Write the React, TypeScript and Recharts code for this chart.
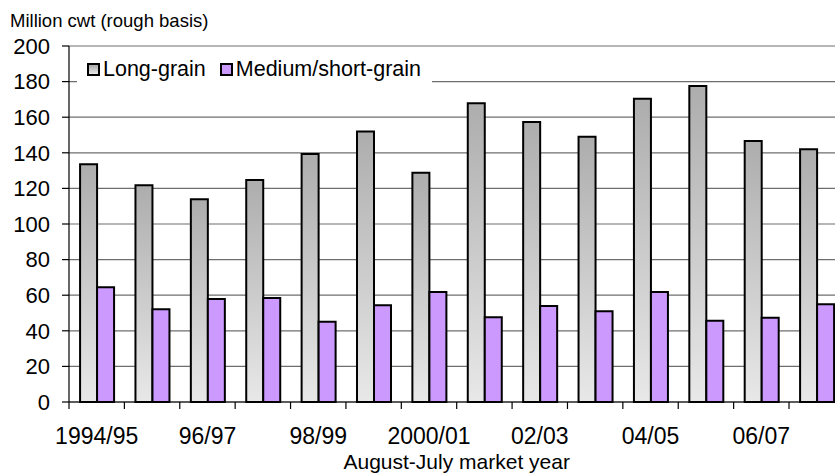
import React from 'react';
import { BarChart, Bar, XAxis, YAxis, CartesianGrid, Legend, Label } from 'recharts';

const years = [
  '1994/95', '95/96', '96/97', '97/98', '98/99', '99/00', '2000/01',
  '01/02', '02/03', '03/04', '04/05', '05/06', '06/07', '07/08',
];
const longGrain = [133.5, 121.7, 113.9, 124.7, 139.3, 152, 128.8, 167.8, 157.3, 149, 170.4, 177.5, 146.6, 142];
const mediumShort = [64.4, 52.1, 57.9, 58.4, 45.1, 54.3, 61.8, 47.6, 53.9, 51, 61.8, 45.7, 47.4, 54.9];
const yTicks = [0, 20, 40, 60, 80, 100, 120, 140, 160, 180, 200];

const data = years.map((year, i) => ({
  year,
  long: longGrain[i],
  medium: mediumShort[i],
}));

const FONT = '"Liberation Sans", Arial, sans-serif';
const W = 860;
const H = 474;
const MARGIN = { top: 46, right: 15.6, bottom: 0, left: 0 };
const Y_AXIS_W = 69;
const X_AXIS_H = 72;
const PLOT_W = W - MARGIN.right - MARGIN.left - Y_AXIS_W;
const STEP = PLOT_W / years.length;
const AXIS_Y = H - X_AXIS_H;

// Excel-style x axis: tick marks sit between categories, labels on every other one
function YearTick(props: any) {
  const { x, index, payload } = props;
  const left = x - STEP / 2;
  return (
    <g>
      <line x1={left} x2={left} y1={AXIS_Y} y2={AXIS_Y + 7} stroke="#000" strokeWidth={1.2} />
      {index % 2 === 0 && (
        <text x={x} y={AXIS_Y + 26} textAnchor="middle" dy="0.71em" fontSize={23} fontFamily={FONT} fill="#000">
          {payload.value}
        </text>
      )}
    </g>
  );
}

function LegendBox() {
  const items = [
    { name: 'Long-grain', bg: 'linear-gradient(#a8a8a8, #e8e8e8)' },
    { name: 'Medium/short-grain', bg: '#cc99ff' },
  ];
  return (
    <div style={{ display: 'flex', alignItems: 'center', height: '100%', paddingLeft: 10, fontFamily: FONT, fontSize: 21.5, color: '#000', whiteSpace: 'nowrap' }}>
      {items.map((it) => (
        <div key={it.name} style={{ display: 'flex', alignItems: 'center', marginRight: 14 }}>
          <span style={{ display: 'inline-block', width: 9, height: 9, border: '2px solid #000', background: it.bg, marginRight: 3 }} />
          <span>{it.name}</span>
        </div>
      ))}
    </div>
  );
}

export default function App() {
  return (
    <div style={{ position: 'absolute', left: 0, top: 0, width: 835, height: 474, overflow: 'hidden', background: '#fff' }}>
      <BarChart width={W} height={H} data={data} margin={MARGIN} barCategoryGap="20%" barGap={0}>
        <defs>
          <linearGradient id="greyFill" x1="0" y1="0" x2="0" y2="1">
            <stop offset="0%" stopColor="#adadad" />
            <stop offset="100%" stopColor="#e8e8e8" />
          </linearGradient>
        </defs>
        <CartesianGrid vertical={false} stroke="#6e6e6e" strokeWidth={1.2} />
        <XAxis
          dataKey="year"
          interval={0}
          height={X_AXIS_H}
          tickLine={false}
          axisLine={{ stroke: '#000', strokeWidth: 1.2 }}
          tick={<YearTick />}
        >
          <Label
            value="August-July market year"
            position="insideBottom"
            offset={5}
            style={{ fontSize: 21, fontFamily: FONT, fill: '#000' }}
          />
        </XAxis>
        <YAxis
          width={Y_AXIS_W}
          domain={[0, 200]}
          ticks={yTicks}
          interval={0}
          tickSize={7}
          tickMargin={12}
          axisLine={{ stroke: '#000', strokeWidth: 1.2 }}
          tickLine={{ stroke: '#000', strokeWidth: 1.2 }}
          tick={{ fontSize: 22, fontFamily: FONT, fill: '#000' }}
        >
          <Label
            content={() => (
              <text x={10} y={27} fontSize={18.5} fontFamily={FONT} fill="#000">
                Million cwt (rough basis)
              </text>
            )}
          />
        </YAxis>
        <Legend
          layout="horizontal"
          verticalAlign="middle"
          align="center"
          content={<LegendBox />}
          wrapperStyle={{ top: 53, left: 77, width: 355, height: 32, background: '#fff' }}
        />
        <Bar dataKey="long" name="Long-grain" fill="url(#greyFill)" stroke="#000" strokeWidth={2} isAnimationActive={false} />
        <Bar dataKey="medium" name="Medium/short-grain" fill="#cc99ff" stroke="#000" strokeWidth={2} isAnimationActive={false} />
      </BarChart>
    </div>
  );
}
